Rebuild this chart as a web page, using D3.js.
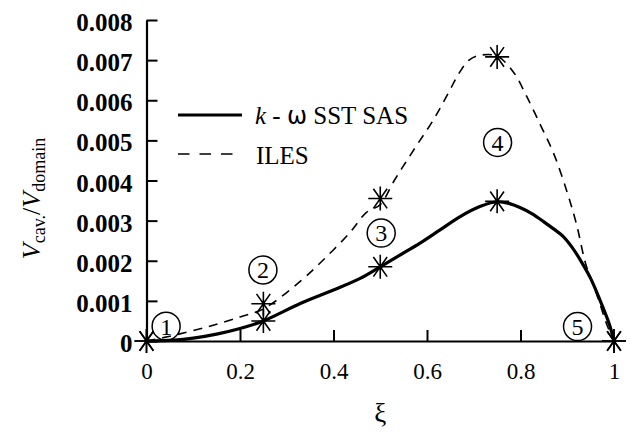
<!DOCTYPE html>
<html lang="en">
<head>
    <meta charset="UTF-8">
    <title>Cavity volume</title>
    <style>
        body { margin: 0; background: #fff; }
        svg { display: block; }
        svg text { font-family: "Liberation Serif", "Times New Roman", serif; }
    </style>
</head>
<body>
    <div class="container"></div>
    <script src="https://cdn.jsdelivr.net/npm/d3@7"></script>
    <script>
        // Data
        // k-omega SST SAS curve
        const sasXi = [0, 0.06, 0.1, 0.15, 0.2, 0.25, 0.33, 0.4, 0.457, 0.5, 0.542, 0.585, 0.628, 0.671, 0.713, 0.75, 0.775, 0.8, 0.825, 0.85, 0.87, 0.89, 0.91, 0.93, 0.95, 0.97, 0.99, 1]
        const sasV = [0, 0.00002, 0.00007, 0.00017, 0.00031, 0.0005, 0.00094, 0.00127, 0.00156, 0.00185, 0.00214, 0.00244, 0.00277, 0.0031, 0.00335, 0.00347, 0.00343, 0.00332, 0.00317, 0.00297, 0.0028, 0.00262, 0.00234, 0.00198, 0.00156, 0.00102, 0.00042, 0]
        // ILES curve
        const ilesXi = [0, 0.05, 0.13, 0.2, 0.25, 0.33, 0.385, 0.435, 0.47, 0.5, 0.53, 0.557, 0.585, 0.613, 0.642, 0.67, 0.69, 0.713, 0.75, 0.785, 0.813, 0.842, 0.87, 0.9, 0.92, 0.94, 0.965, 0.985, 1]
        const ilesV = [0, 0.00012, 0.00035, 0.0006, 0.0008, 0.0015, 0.0021, 0.0027, 0.0032, 0.0034, 0.004, 0.0045, 0.005, 0.0055, 0.0061, 0.0067, 0.007, 0.00712, 0.0071, 0.0067, 0.0061, 0.0054, 0.0047, 0.0037, 0.0029, 0.0019, 0.0011, 0.0004, 0]
        // asterisk markers
        const markXi = [0, 0.25, 0.5, 0.75, 1]
        const sasMarkV = [0, 0.0005, 0.00185, 0.00348, 0]
        const ilesMarkV = [0, 0.00093, 0.00355, 0.00708, 0]
        // circled stage numbers
        const stageLabels = ["1", "2", "3", "4", "5"]
        const stageXi = [0.042, 0.249, 0.502, 0.751, 0.922]
        const stageV = [0.00037, 0.00177, 0.00269, 0.00495, 0.00036]
        // ticks
        const xTicks = [0, 0.2, 0.4, 0.6, 0.8, 1]
        const xTickLabels = ["0", "0.2", "0.4", "0.6", "0.8", "1"]
        const yTicks = [0, 0.001, 0.002, 0.003, 0.004, 0.005, 0.006, 0.007, 0.008]
        const yTickLabels = ["0", "0.001", "0.002", "0.003", "0.004", "0.005", "0.006", "0.007", "0.008"]

        const width = 630
        const height = 432
        const margin = {top: 20, right: 16, bottom: 91, left: 146.5}
        const chartWidth = width - margin.left - margin.right
        const chartHeight = height - margin.top - margin.bottom

        const svg = d3.select('.container')
                    .append("svg")
                    .attr("width", width)
                    .attr("height", height)

        const chart = svg.append("g")
                        .attr("transform", `translate(${margin.left},${margin.top})`)

        const xScale = d3.scaleLinear().domain([0, 1]).range([0, chartWidth])
        const yScale = d3.scaleLinear().domain([0, 0.008]).range([chartHeight, 0])

        // axes, ticks pointing inwards
        const bottomAxis = d3.axisBottom(xScale)
                            .tickValues(xTicks)
                            .tickFormat((d, i) => xTickLabels[i])
                            .tickSizeInner(-11)
                            .tickSizeOuter(0)
                            .tickPadding(22)
        const xAxisGroup = chart.append("g")
                            .attr("transform", `translate(0,${chartHeight})`)
                            .call(bottomAxis)
        xAxisGroup.selectAll(".tick text").attr("font-size", 23).attr("fill", "#000")
        xAxisGroup.selectAll(".tick line").attr("stroke-width", 2)
            .attr("display", d => (d === 0 || d === 1) ? "none" : null)

        const leftAxis = d3.axisLeft(yScale)
                            .tickValues(yTicks)
                            .tickFormat((d, i) => yTickLabels[i])
                            .tickSizeInner(-11)
                            .tickSizeOuter(0)
                            .tickPadding(14)
        const yAxisGroup = chart.append("g").call(leftAxis)
        yAxisGroup.selectAll(".tick text").attr("font-size", 25).attr("font-weight", "bold")
            .attr("fill", "#000").attr("dy", "0.42em")
        yAxisGroup.selectAll(".tick line").attr("stroke-width", 2)
        chart.selectAll(".domain").attr("stroke-width", 2.2)

        // curves
        const line = d3.line()
                        .x(d => xScale(d[0]))
                        .y(d => yScale(d[1]))
                        .curve(d3.curveCatmullRom)

        chart.append("path")
            .datum(ilesXi.map((x, i) => [x, ilesV[i]]))
            .attr("d", line)
            .attr("fill", "none")
            .attr("stroke", "#000")
            .attr("stroke-width", 1.6)
            .attr("stroke-dasharray", "9,7")

        chart.append("path")
            .datum(sasXi.map((x, i) => [x, sasV[i]]))
            .attr("d", line)
            .attr("fill", "none")
            .attr("stroke", "#000")
            .attr("stroke-width", 3.2)

        // asterisk markers
        const r = 12
        const angles = [0, 90, 55, 125]
        const starPath = angles.map(a => {
            const dx = r * Math.cos(a * Math.PI / 180)
            const dy = r * Math.sin(a * Math.PI / 180)
            return `M${-dx},${-dy}L${dx},${dy}`
        }).join("")
        const marks = markXi.map((x, i) => [x, sasMarkV[i]])
                        .concat(markXi.map((x, i) => [x, ilesMarkV[i]]))
        chart.append("g").selectAll("path")
            .data(marks)
            .join("path")
            .attr("transform", d => `translate(${xScale(d[0])},${yScale(d[1])})`)
            .attr("d", starPath)
            .attr("stroke", "#000")
            .attr("stroke-width", 1.6)
            .attr("fill", "none")

        // circled numbers
        const stages = chart.append("g").selectAll("g")
            .data(stageLabels.map((s, i) => ({s, x: stageXi[i], v: stageV[i]})))
            .join("g")
            .attr("transform", d => `translate(${xScale(d.x)},${yScale(d.v)})`)
        stages.append("circle")
            .attr("r", 14)
            .attr("fill", "none")
            .attr("stroke", "#000")
            .attr("stroke-width", 1.5)
        stages.append("text")
            .attr("text-anchor", "middle")
            .attr("dy", "0.35em")
            .attr("font-size", 24)
            .text(d => d.s)

        // legend
        const legend = svg.append("g")
        legend.append("line")
            .attr("x1", 178).attr("x2", 242).attr("y1", 115).attr("y2", 115)
            .attr("stroke", "#000").attr("stroke-width", 3.2)
        legend.append("line")
            .attr("x1", 178).attr("x2", 233).attr("y1", 154).attr("y2", 154)
            .attr("stroke", "#000").attr("stroke-width", 1.6)
            .attr("stroke-dasharray", "11.5,10")
        const lt = legend.append("text").attr("x", 255).attr("y", 124).attr("font-size", 25)
        lt.append("tspan").attr("font-style", "italic").text("k")
        lt.append("tspan").text(" - ")
        lt.append("tspan").style("font-family", "DejaVu Sans").attr("font-size", 24).text("ω")
        lt.append("tspan").text(" SST SAS")
        legend.append("text").attr("x", 256).attr("y", 164).attr("font-size", 25).text("ILES")

        // axis titles
        svg.append("text")
            .attr("x", margin.left + chartWidth / 2)
            .attr("y", 422)
            .attr("text-anchor", "middle")
            .attr("font-size", 27)
            .text("ξ")

        const yt = svg.append("text")
            .attr("transform", `translate(40,${margin.top + chartHeight / 2 + 18}) rotate(-90)`)
            .attr("text-anchor", "middle")
            .attr("font-size", 26)
        yt.append("tspan").attr("font-style", "italic").text("V")
        yt.append("tspan").attr("font-size", 18).attr("dy", 5).text("cav.")
        yt.append("tspan").attr("dy", -5).text("/")
        yt.append("tspan").attr("font-style", "italic").text("V")
        yt.append("tspan").attr("font-size", 18).attr("dy", 5).text("domain")
    </script>
</body>
</html>
